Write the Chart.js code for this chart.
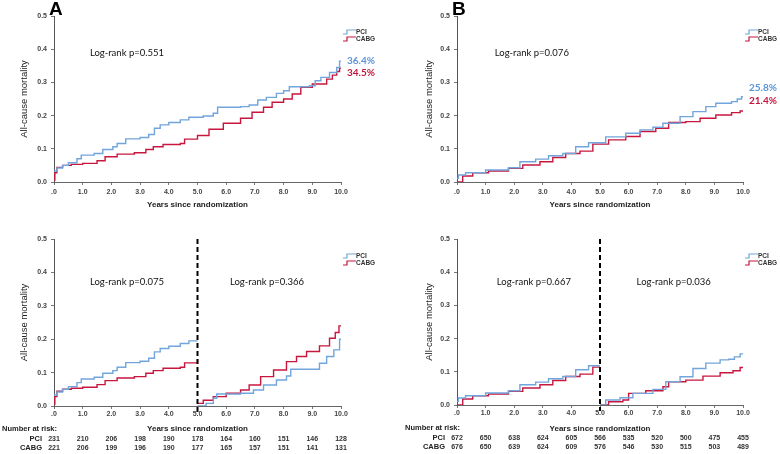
<!DOCTYPE html>
<html>
<head>
<meta charset="utf-8">
<script src="https://cdn.jsdelivr.net/npm/chart.js@4.4.0/dist/chart.umd.min.js"></script>
<style>
  body { margin: 0; background: #fff; }
  #wrap { position: relative; width: 780px; height: 454px; overflow: hidden; }
  canvas { position: absolute; }
</style>
</head>
<body>
<div id="wrap">
  <canvas id="chartA1" width="390" height="215" style="left:0;top:0"></canvas>
  <canvas id="chartB1" width="390" height="215" style="left:390px;top:0"></canvas>
  <canvas id="chartA2" width="390" height="239" style="left:0;top:215px"></canvas>
  <canvas id="chartB2" width="390" height="239" style="left:390px;top:215px"></canvas>
</div>
<script>
// number at risk columns
const riskYears = [0, 1, 2, 3, 4, 5, 6, 7, 8, 9, 10];
const riskA_pci = [231, 210, 206, 198, 190, 178, 164, 160, 151, 146, 128];
const riskA_cabg = [221, 206, 199, 196, 190, 177, 165, 157, 151, 141, 131];
const riskB_pci = [672, 650, 638, 624, 605, 566, 535, 520, 500, 475, 455];
const riskB_cabg = [676, 650, 639, 624, 609, 576, 546, 530, 515, 503, 489];

// panel A, whole follow-up
const aPciT = [0, 0.1, 0.3, 0.5, 0.8, 0.95, 1.4, 1.7, 2.05, 2.2, 2.5, 3.0, 3.3, 3.5, 3.7, 4.0, 4.4, 4.7, 5.2, 5.55, 5.7, 6.5, 6.8, 7.1, 7.4, 7.75, 8.0, 8.2, 8.9, 9.1, 9.3, 9.6, 9.85, 9.95, 10];
const aPciV = [0.033, 0.042, 0.05, 0.058, 0.07, 0.081, 0.086, 0.098, 0.106, 0.116, 0.13, 0.134, 0.143, 0.162, 0.172, 0.179, 0.187, 0.195, 0.199, 0.207, 0.225, 0.227, 0.232, 0.247, 0.255, 0.267, 0.275, 0.287, 0.29, 0.305, 0.315, 0.33, 0.345, 0.364, 0.364];
const aCabgT = [0, 0.03, 0.1, 0.3, 0.6, 1.0, 1.5, 1.78, 2.2, 2.8, 3.2, 3.46, 3.8, 4.4, 4.55, 5.0, 5.4, 5.9, 6.5, 6.9, 7.3, 7.6, 8.0, 8.3, 8.6, 9.0, 9.5, 9.7, 9.85, 9.95, 10];
const aCabgV = [0.006, 0.028, 0.044, 0.05, 0.053, 0.056, 0.064, 0.076, 0.084, 0.088, 0.098, 0.106, 0.113, 0.116, 0.129, 0.14, 0.159, 0.177, 0.192, 0.21, 0.225, 0.24, 0.25, 0.265, 0.285, 0.295, 0.31, 0.322, 0.333, 0.343, 0.343];

// panel B, whole follow-up
const bPciT = [0, 0.05, 0.3, 1.0, 1.8, 2.2, 2.75, 3.2, 3.7, 4.15, 4.6, 5.2, 5.9, 6.4, 6.85, 7.2, 7.8, 8.25, 8.7, 9.05, 9.6, 9.8, 9.95, 10];
const bPciV = [0.011, 0.021, 0.028, 0.036, 0.043, 0.061, 0.069, 0.079, 0.086, 0.106, 0.118, 0.136, 0.147, 0.157, 0.165, 0.177, 0.197, 0.212, 0.227, 0.237, 0.242, 0.25, 0.257, 0.257];
const bCabgT = [0, 0.2, 0.55, 1.1, 1.8, 2.3, 2.9, 3.35, 3.8, 4.3, 4.75, 5.3, 5.9, 6.4, 6.95, 7.4, 8.0, 8.5, 9.05, 9.6, 9.9, 10];
const bCabgV = [0.0, 0.018, 0.028, 0.033, 0.041, 0.051, 0.061, 0.074, 0.086, 0.093, 0.114, 0.127, 0.137, 0.152, 0.162, 0.179, 0.182, 0.192, 0.202, 0.209, 0.214, 0.214];

// landmark analysis after year 5
const aPciLateT = [5.0, 5.3, 5.55, 5.67, 6.5, 6.95, 7.3, 7.75, 8.1, 8.25, 8.9, 9.25, 9.5, 9.75, 9.95, 10];
const aPciLateV = [0.0, 0.008, 0.023, 0.036, 0.038, 0.048, 0.063, 0.078, 0.09, 0.11, 0.11, 0.128, 0.148, 0.168, 0.2, 0.2];
const aCabgLateT = [5.0, 5.2, 5.55, 6.0, 6.5, 6.8, 7.2, 7.65, 8.1, 8.45, 8.8, 9.25, 9.6, 9.8, 9.93, 10];
const aCabgLateV = [0.008, 0.017, 0.028, 0.038, 0.048, 0.063, 0.088, 0.108, 0.133, 0.148, 0.163, 0.18, 0.203, 0.22, 0.24, 0.24];
const bPciLateT = [5.0, 5.2, 5.7, 6.15, 6.85, 7.3, 7.8, 8.25, 8.7, 9.2, 9.5, 9.7, 9.9, 10];
const bPciLateV = [0.0, 0.015, 0.022, 0.035, 0.047, 0.07, 0.085, 0.11, 0.126, 0.136, 0.138, 0.145, 0.154, 0.154];
const bCabgLateT = [5.0, 5.3, 5.8, 6.0, 6.6, 7.2, 7.4, 8.0, 8.6, 9.2, 9.65, 9.9, 10];
const bCabgLateV = [0.0, 0.01, 0.015, 0.035, 0.043, 0.055, 0.07, 0.075, 0.087, 0.097, 0.103, 0.113, 0.113];

const groups = ['PCI', 'CABG'];
const endLabelsA = ['36.4%', '34.5%'];
const endLabelsB = ['25.8%', '21.4%'];
const logRankA1 = ['Log-rank p=0.551'];
const logRankB1 = ['Log-rank p=0.076'];
const logRankA2 = ['Log-rank p=0.075', 'Log-rank p=0.366'];
const logRankB2 = ['Log-rank p=0.667', 'Log-rank p=0.036'];

const BLUE = '#72a5dc';
const RED = '#c8173f';

function pts(t, v) {
    return t.map((x, i) => ({ x: x, y: v[i] }));
}

// first part of the landmark plot: same curve cut at year 5
function upTo(t, v, cut) {
    var out = [];
    for (var i = 0; i < t.length; i++) {
        if (t[i] <= cut) out.push({ x: t[i], y: v[i] });
    }
    out.push({ x: cut, y: out[out.length - 1].y });
    return out;
}

function line(data, color) {
    return {
        data: data,
        borderColor: color,
        borderWidth: 1.4,
        stepped: true,
        pointRadius: 0,
        fill: false
    };
}

const annotate = {
    id: 'annotate',
    afterDatasetsDraw(chart, args, o) {
        var ctx = chart.ctx, a = chart.chartArea;
        var xs = chart.scales.x, ys = chart.scales.y;
        ctx.save();

        if (o.letter) {
            ctx.font = 'bold 19px Arial';
            ctx.fillStyle = '#000';
            ctx.textAlign = 'left';
            ctx.textBaseline = 'alphabetic';
            ctx.fillText(o.letter, a.left - 5, 15);
        }

        if (o.split) {
            ctx.strokeStyle = '#000';
            ctx.lineWidth = 2;
            ctx.setLineDash([5, 3]);
            ctx.beginPath();
            ctx.moveTo(xs.getPixelForValue(o.split), a.top);
            ctx.lineTo(xs.getPixelForValue(o.split), a.bottom + 6);
            ctx.stroke();
            ctx.setLineDash([]);
        }

        // log-rank texts
        ctx.font = '9.5px Lato';
        ctx.fillStyle = '#111';
        ctx.textAlign = 'left';
        ctx.textBaseline = 'middle';
        o.logRank.forEach((txt, i) => {
            ctx.fillText(txt, xs.getPixelForValue(o.logRankAt[i][0]), ys.getPixelForValue(o.logRankAt[i][1]));
        });

        // legend
        var colors = [BLUE, RED];
        ctx.font = 'bold 6.5px Arial';
        ctx.fillStyle = '#333';
        groups.forEach((g, i) => {
            var y = a.top + o.legendTop + i * 7;
            var x0 = a.right + 2;
            ctx.strokeStyle = colors[i];
            ctx.lineWidth = 1.2;
            ctx.beginPath();
            ctx.moveTo(x0, y + 2);
            ctx.lineTo(x0 + 4, y + 2);
            ctx.lineTo(x0 + 4, y - 2);
            ctx.lineTo(x0 + 13, y - 2);
            ctx.stroke();
            ctx.fillText(g, a.right + 15, y);
        });

        // final percentages
        if (o.endLabels) {
            ctx.font = 'bold 10px Lato';
            o.endLabels.forEach((txt, i) => {
                ctx.fillStyle = i === 0 ? '#5a95d8' : '#c4173d';
                ctx.fillText(txt, a.right + 6, ys.getPixelForValue(o.endLabelAt[i]));
            });
        }

        // number at risk table
        if (o.risk) {
            ctx.fillStyle = '#222';
            ctx.font = 'bold 7.5px Arial';
            ctx.textAlign = 'left';
            ctx.fillText('Number at risk:', a.left - 52, a.bottom + 23);
            ctx.textAlign = 'right';
            ctx.fillText('PCI', a.left - 12, a.bottom + 33);
            ctx.fillText('CABG', a.left - 12, a.bottom + 42);
            ctx.font = 'bold 7px Arial';
            ctx.fillStyle = '#333';
            ctx.textAlign = 'center';
            riskYears.forEach((yr, i) => {
                var x = xs.getPixelForValue(yr);
                ctx.fillText(String(o.risk[0][i]), x, a.bottom + 33);
                ctx.fillText(String(o.risk[1][i]), x, a.bottom + 42);
            });
        }
        ctx.restore();
    }
};

function makePanel(id, datasets, p) {
    var ctx = document.getElementById(id).getContext('2d');
    return new Chart(ctx, {
        type: 'line',
        data: { datasets: datasets },
        plugins: [annotate],
        options: {
            responsive: false,
            animation: false,
            layout: { padding: { top: p.padTop, right: p.padRight, bottom: p.padBottom, left: 0 } },
            plugins: {
                legend: { display: false },
                tooltip: { enabled: false },
                annotate: p.notes
            },
            scales: {
                x: {
                    type: 'linear',
                    min: 0,
                    max: 10,
                    afterFit: function (s) { s.height = p.xHeight; },
                    border: { display: true, color: '#666', width: 1 },
                    grid: { drawOnChartArea: false, drawTicks: true, tickLength: 3, color: '#777' },
                    ticks: {
                        stepSize: 1,
                        padding: p.xTickPad,
                        maxRotation: 0,
                        color: '#444',
                        font: { family: 'Arial', size: 7, weight: 'bold' },
                        callback: v => v === 0 ? '.0' : v.toFixed(1)
                    },
                    title: {
                        display: true,
                        text: 'Years since randomization',
                        color: '#222',
                        font: { family: 'Arial', size: 8, weight: 'bold' },
                        padding: { top: 0, bottom: p.xTitlePad }
                    }
                },
                y: {
                    min: 0,
                    max: 0.5,
                    afterFit: function (s) { s.width = p.yWidth; },
                    border: { display: true, color: '#555', width: 1 },
                    grid: { drawOnChartArea: false, drawTicks: true, tickLength: 3, color: '#777' },
                    ticks: {
                        stepSize: 0.1,
                        padding: 4,
                        color: '#444',
                        font: { family: 'Arial', size: 7, weight: 'bold' },
                        callback: v => v.toFixed(1)
                    },
                    title: {
                        display: true,
                        text: 'All-cause mortality',
                        color: '#222',
                        font: { family: 'Arial', size: 9.5 },
                        padding: { top: p.yTitlePad, bottom: 0 }
                    }
                }
            }
        }
    });
}

makePanel('chartA1', [
    line(pts(aPciT, aPciV), BLUE),
    line(pts(aCabgT, aCabgV), RED)
], {
    padTop: 16, padRight: 49, padBottom: 0, xHeight: 33, yWidth: 54,
    xTickPad: 3, xTitlePad: 5, yTitlePad: 19,
    notes: {
        letter: 'A', legendTop: 16,
        logRank: logRankA1, logRankAt: [[1.25, 0.39]],
        endLabels: endLabelsA, endLabelAt: [0.364, 0.328]
    }
});

makePanel('chartB1', [
    line(pts(bPciT, bPciV), BLUE),
    line(pts(bCabgT, bCabgV), RED)
], {
    padTop: 16, padRight: 37, padBottom: 0, xHeight: 33, yWidth: 67,
    xTickPad: 3, xTitlePad: 5, yTitlePad: 34,
    notes: {
        letter: 'B', legendTop: 16,
        logRank: logRankB1, logRankAt: [[1.32, 0.39]],
        endLabels: endLabelsB, endLabelAt: [0.283, 0.244]
    }
});

makePanel('chartA2', [
    line(upTo(aPciT, aPciV, 5), BLUE),
    line(upTo(aCabgT, aCabgV, 5), RED),
    line(pts(aPciLateT, aPciLateV), BLUE),
    line(pts(aCabgLateT, aCabgLateV), RED)
], {
    padTop: 24, padRight: 49, padBottom: 20, xHeight: 28, yWidth: 54,
    xTickPad: 1, xTitlePad: 0, yTitlePad: 19,
    notes: {
        legendTop: 17, split: 5,
        logRank: logRankA2, logRankAt: [[1.25, 0.372], [6.13, 0.372]],
        risk: [riskA_pci, riskA_cabg]
    }
});

makePanel('chartB2', [
    line(upTo(bPciT, bPciV, 5), BLUE),
    line(upTo(bCabgT, bCabgV, 5), RED),
    line(pts(bPciLateT, bPciLateV), BLUE),
    line(pts(bCabgLateT, bCabgLateV), RED)
], {
    padTop: 24, padRight: 37, padBottom: 20, xHeight: 29, yWidth: 67,
    xTickPad: 1, xTitlePad: 0, yTitlePad: 34,
    notes: {
        legendTop: 17, split: 5,
        logRank: logRankB2, logRankAt: [[1.39, 0.371], [6.28, 0.371]],
        risk: [riskB_pci, riskB_cabg]
    }
});
</script>
</body>
</html>
